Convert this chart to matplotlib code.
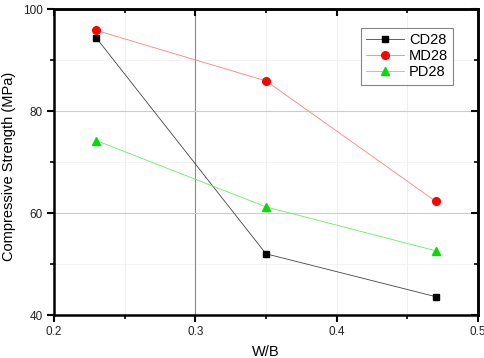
import matplotlib
matplotlib.use("Agg")
import matplotlib.pyplot as plt

plt.rcParams['font.family'] = ['Liberation Sans', 'DejaVu Sans']

wb = [0.23, 0.35, 0.47]
cd28 = [94.3, 52.0, 43.6]
md28 = [95.8, 85.9, 62.3]
pd28 = [74.2, 61.2, 52.6]
xticks = [0.2, 0.3, 0.4, 0.5]
xtick_labels = ['0.2', '0.3', '0.4', '0.5']
yticks = [40, 60, 80, 100]

W, H = 484, 358
fig = plt.figure(figsize=(W/100, H/100), dpi=100)
ax = fig.add_axes([54/W, 1-315/H, (478-54)/W, (315-9)/H])

# grid
for xv in [0.25, 0.35, 0.4, 0.45]:
    ax.axvline(xv, color='#eeeeee', lw=0.6, zorder=0)
for yv in [50, 70, 90]:
    ax.axhline(yv, color='#f2f2f2', lw=0.6, zorder=0)
ax.axvline(0.3, color='#888888', lw=0.8, zorder=0)
for yv in [60, 80]:
    ax.axhline(yv, color='#cccccc', lw=0.8, zorder=0)

ax.plot(wb, cd28, color='#444444', lw=0.6, marker='s', ms=4.5, mfc='black', mec='black', label='CD28')
ax.plot(wb, md28, color='#ff8080', lw=0.6, marker='o', ms=5.5, mfc='red', mec='red', label='MD28')
ax.plot(wb, pd28, color='#66ee66', lw=0.6, marker='^', ms=6, mfc='#00dd00', mec='#00dd00', label='PD28')

ax.set_xlim(0.2, 0.5)
ax.set_ylim(40, 100)
ax.set_xticks(xticks)
ax.set_xticklabels(xtick_labels)
ax.set_yticks(yticks)
ax.set_xticks([0.25, 0.35, 0.45], minor=True)
ax.set_yticks([50, 70, 90], minor=True)
ax.tick_params(which='major', direction='out', length=5, width=1.5, labelsize=8.5, pad=3, labelcolor='#222222')
ax.tick_params(which='minor', direction='out', length=3, width=1.2)
for s in ax.spines.values():
    s.set_linewidth(1.8)

# inward ticks on top and right
top = ax.secondary_xaxis('top')
top.set_xticks(xticks)
top.set_xticks([0.25, 0.35, 0.45], minor=True)
top.tick_params(which='major', direction='in', length=5, width=1.5, labeltop=False)
top.tick_params(which='minor', direction='in', length=3, width=1.2)
top.spines['top'].set_linewidth(1.8)
right = ax.secondary_yaxis('right')
right.set_yticks(yticks)
right.set_yticks([50, 70, 90], minor=True)
right.tick_params(which='major', direction='in', length=5, width=1.5, labelright=False)
right.tick_params(which='minor', direction='in', length=3, width=1.2)
right.spines['right'].set_linewidth(1.8)

fig.text(266/W, 1-352/H, 'W/B', fontsize=10.5, ha='center', va='center')
fig.text(9/W, 1-166/H, 'Compressive Strength (MPa)', fontsize=10.5, ha='center', va='center', rotation=90)

leg = ax.legend(loc='upper right', bbox_to_anchor=(0.941, 0.938), fontsize=10.5, frameon=True,
                fancybox=False, edgecolor='#666666', handlelength=2.6, handletextpad=0.3,
                borderpad=0.35, labelspacing=0.15, borderaxespad=0)
leg.get_frame().set_linewidth(0.8)

fig.savefig('out.png', dpi=100)
